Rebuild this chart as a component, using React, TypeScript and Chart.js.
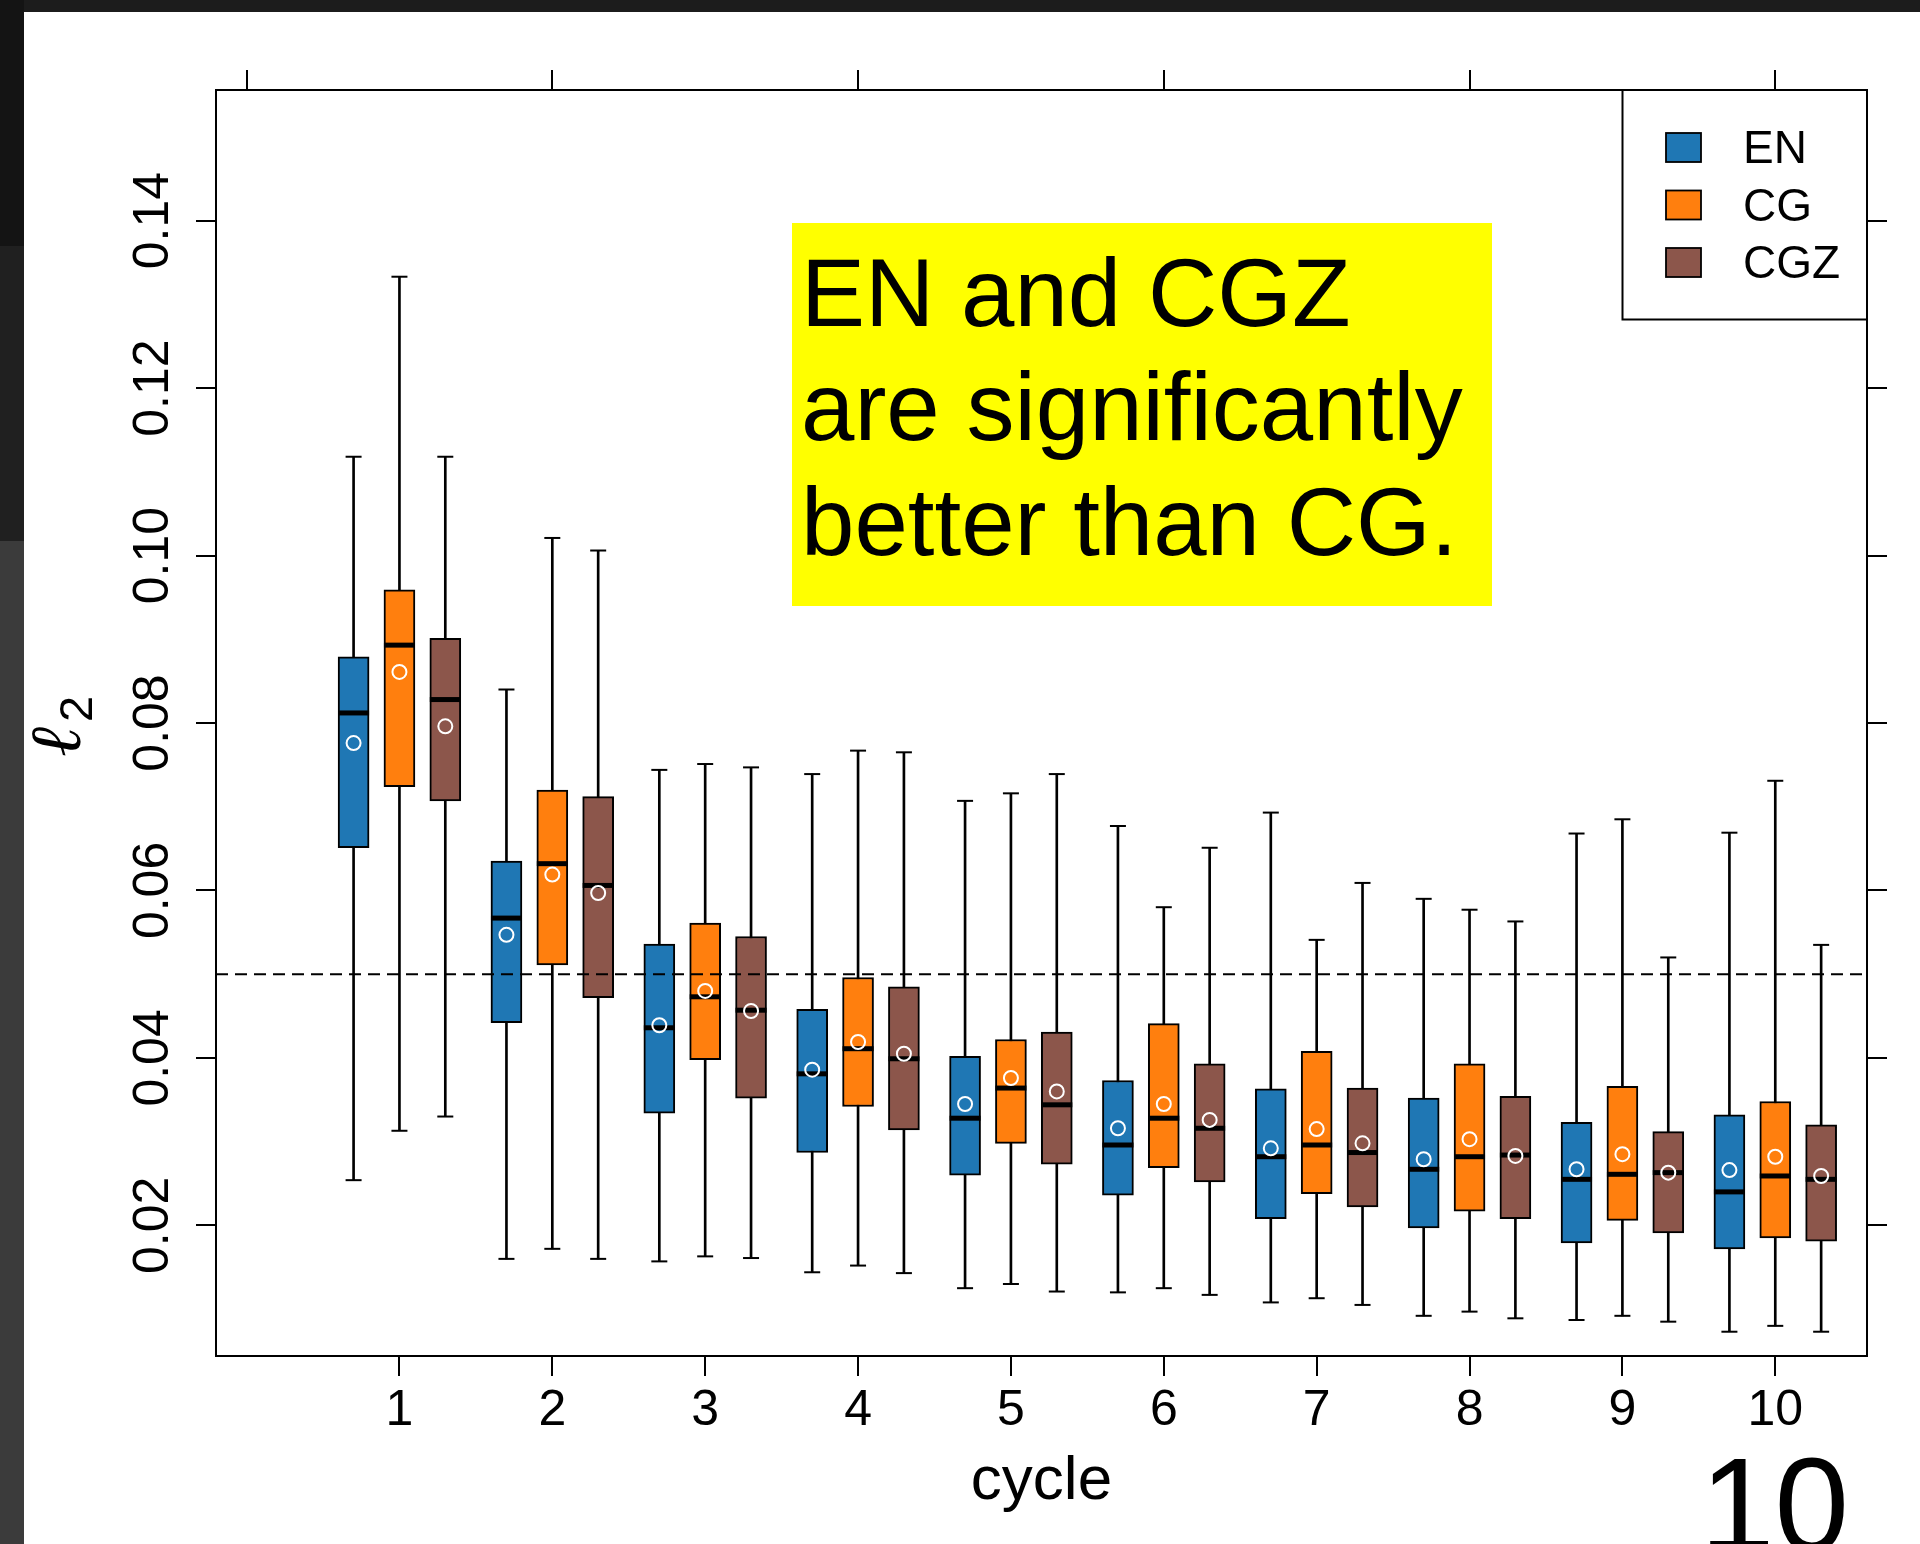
import React, { useEffect, useRef } from 'react';
import { Chart, registerables } from 'chart.js';

Chart.register(...registerables);

// ---------------- data ----------------
const cycles = [1, 2, 3, 4, 5, 6, 7, 8, 9, 10];
const methodNames = ['EN', 'CG', 'CGZ'];
const methodColors = ['#1f77b4', '#ff7f0e', '#8c564b'];
const methodOffsets = [-0.3, 0, 0.3];

const yTickValues = [0.02, 0.04, 0.06, 0.08, 0.1, 0.12, 0.14];
const yTickLabels = ['0.02', '0.04', '0.06', '0.08', '0.10', '0.12', '0.14'];
const xTickLabels = ['1', '2', '3', '4', '5', '6', '7', '8', '9', '10'];
const topTickValues = [0, 2, 4, 6, 8, 10];
const xAxisMin = -0.2;
const xAxisMax = 10.6;
const yAxisMin = 0.0044;
const yAxisMax = 0.1556;
const referenceLevel = 0.05;

const xTitle = 'cycle';
const yTitleMain = 'ℓ';
const yTitleSub = '2';
const annotationLines = ['EN and CGZ', 'are significantly', 'better than CG.'];
const pageNumber = '10';

// EN
const enLow = [0.0254, 0.016, 0.0157, 0.0144, 0.0125, 0.012, 0.0108, 0.0092, 0.0087, 0.0073];
const enQ1 = [0.0651, 0.0442, 0.0334, 0.0287, 0.026, 0.0236, 0.0208, 0.0197, 0.0179, 0.0172];
const enMedian = [0.0812, 0.0567, 0.0436, 0.0381, 0.0328, 0.0296, 0.0282, 0.0267, 0.0255, 0.024];
const enQ3 = [0.0879, 0.0635, 0.0536, 0.0458, 0.0402, 0.0373, 0.0363, 0.0352, 0.0323, 0.0332];
const enHigh = [0.1118, 0.084, 0.0744, 0.0739, 0.0707, 0.0677, 0.0693, 0.059, 0.0668, 0.0669];
const enMean = [0.0776, 0.0547, 0.0439, 0.0386, 0.0345, 0.0316, 0.0292, 0.0279, 0.0267, 0.0266];

// CG
const cgLow = [0.0313, 0.0172, 0.0163, 0.0152, 0.013, 0.0125, 0.0113, 0.0097, 0.0092, 0.008];
const cgQ1 = [0.0724, 0.0511, 0.0398, 0.0342, 0.0298, 0.0269, 0.0238, 0.0217, 0.0206, 0.0185];
const cgMedian = [0.0893, 0.0632, 0.0473, 0.0411, 0.0364, 0.0328, 0.0296, 0.0282, 0.0261, 0.0259];
const cgQ3 = [0.0959, 0.072, 0.0561, 0.0496, 0.0422, 0.0441, 0.0408, 0.0393, 0.0366, 0.0348];
const cgHigh = [0.1333, 0.1021, 0.0751, 0.0767, 0.0716, 0.058, 0.0541, 0.0577, 0.0685, 0.0731];
const cgMean = [0.0861, 0.0619, 0.048, 0.0419, 0.0376, 0.0345, 0.0315, 0.0303, 0.0285, 0.0282];

// CGZ
const cgzLow = [0.033, 0.016, 0.0161, 0.0143, 0.0121, 0.0117, 0.0105, 0.0089, 0.0085, 0.0073];
const cgzQ1 = [0.0707, 0.0472, 0.0352, 0.0314, 0.0273, 0.0252, 0.0222, 0.0208, 0.0191, 0.0181];
const cgzMedian = [0.0828, 0.0606, 0.0457, 0.0399, 0.0344, 0.0316, 0.0287, 0.0284, 0.0263, 0.0255];
const cgzQ3 = [0.0901, 0.0712, 0.0545, 0.0485, 0.0431, 0.0393, 0.0364, 0.0354, 0.0312, 0.032];
const cgzHigh = [0.1118, 0.1006, 0.0747, 0.0765, 0.0739, 0.0651, 0.0609, 0.0563, 0.052, 0.0535];
const cgzMean = [0.0796, 0.0597, 0.0456, 0.0405, 0.036, 0.0326, 0.0298, 0.0283, 0.0263, 0.0259];

const methodStats = [
  [enLow, enQ1, enMedian, enQ3, enHigh, enMean],
  [cgLow, cgQ1, cgMedian, cgQ3, cgHigh, cgMean],
  [cgzLow, cgzQ1, cgzMedian, cgzQ3, cgzHigh, cgzMean],
];

// ---------------- styling ----------------
const FONT = "'Liberation Sans', Arial, Helvetica, sans-serif";
const CANVAS_W = 1920;
const CANVAS_H = 1544;
const AREA = { left: 216, top: 90, right: 1867, bottom: 1356 };

function buildDatasets(): any[] {
  const out: any[] = [];
  methodStats.forEach((stats, m) => {
    const [low, q1, med, q3, high, mean] = stats;
    const xs = cycles.map((c) => c + methodOffsets[m]);
    out.push({
      type: 'bar',
      label: methodNames[m] + ' whiskers',
      data: xs.map((x, i) => ({ x, y: [low[i], high[i]] })),
      backgroundColor: '#000',
      borderWidth: 0,
      barThickness: 2,
      grouped: false,
      order: 50,
    });
    out.push({
      type: 'bar',
      label: methodNames[m],
      data: xs.map((x, i) => ({ x, y: [q1[i], q3[i]] })),
      backgroundColor: methodColors[m],
      borderColor: '#000',
      borderWidth: 2,
      borderSkipped: false,
      barThickness: 31,
      grouped: false,
      order: 40,
    });
    out.push({
      type: 'scatter',
      label: methodNames[m] + ' caps',
      data: [
        ...xs.map((x, i) => ({ x, y: low[i] })),
        ...xs.map((x, i) => ({ x, y: high[i] })),
      ],
      pointStyle: 'line',
      pointRadius: 8,
      pointHoverRadius: 8,
      pointBorderColor: '#000',
      pointBorderWidth: 2,
      pointHoverBorderWidth: 2,
      order: 30,
    });
    out.push({
      type: 'scatter',
      label: methodNames[m] + ' median',
      data: xs.map((x, i) => ({ x, y: med[i] })),
      pointStyle: 'line',
      pointRadius: 15.5,
      pointHoverRadius: 15.5,
      pointBorderColor: '#000',
      pointBorderWidth: 5,
      pointHoverBorderWidth: 5,
      order: 20,
    });
    out.push({
      type: 'scatter',
      label: methodNames[m] + ' mean',
      data: xs.map((x, i) => ({ x, y: mean[i] })),
      pointStyle: 'circle',
      pointRadius: 7,
      pointHoverRadius: 7,
      pointBorderColor: '#fff',
      pointBackgroundColor: 'rgba(0,0,0,0)',
      pointBorderWidth: 2,
      pointHoverBorderWidth: 2,
      order: 10,
    });
  });
  out.push({
    type: 'line',
    label: 'reference',
    data: [
      { x: xAxisMin, y: referenceLevel },
      { x: xAxisMax, y: referenceLevel },
    ],
    borderColor: '#000',
    borderWidth: 2,
    borderDash: [12, 7],
    pointRadius: 0,
    showLine: true,
    fill: false,
    order: 0,
  });
  return out;
}

const gridOpts = {
  display: true,
  drawOnChartArea: false,
  drawTicks: true,
  tickLength: 20,
  tickColor: '#000',
  tickWidth: 2,
  color: '#000',
  lineWidth: 2,
  offset: false,
};
const borderOpts = { display: true, color: '#000', width: 2 };

const overlayPlugin = {
  id: 'slideOverlay',
  afterDraw(chart: any) {
    const ctx = chart.ctx as CanvasRenderingContext2D;
    ctx.save();

    // highlighted annotation
    ctx.fillStyle = '#ffff00';
    ctx.fillRect(792, 223, 700, 383);
    ctx.fillStyle = '#000';
    ctx.font = `96px ${FONT}`;
    ctx.textAlign = 'left';
    ctx.textBaseline = 'alphabetic';
    const baselines = [326, 440, 555];
    annotationLines.forEach((t, i) => ctx.fillText(t, 801, baselines[i]));

    // legend
    const lx0 = 1622.5;
    const ly0 = AREA.top;
    const lx1 = AREA.right;
    const ly1 = 319.5;
    ctx.fillStyle = '#fff';
    ctx.fillRect(lx0, ly0, lx1 - lx0, ly1 - ly0);
    ctx.strokeStyle = '#000';
    ctx.lineWidth = 2;
    ctx.strokeRect(lx0, ly0, lx1 - lx0, ly1 - ly0);
    ctx.font = `46px ${FONT}`;
    methodNames.forEach((name, i) => {
      const cy = 147.5 + 57.5 * i;
      ctx.fillStyle = methodColors[i];
      ctx.fillRect(1666, cy - 14.5, 35, 29);
      ctx.lineWidth = 1.8;
      ctx.strokeStyle = '#000';
      ctx.strokeRect(1666, cy - 14.5, 35, 29);
      ctx.fillStyle = '#000';
      ctx.fillText(name, 1743, cy + 15.5);
    });

    // y axis title: script l with subscript 2
    ctx.save();
    ctx.translate(80, 757);
    ctx.rotate(-Math.PI / 2);
    ctx.fillStyle = '#000';
    ctx.font = `italic 72px 'Liberation Serif', 'DejaVu Serif', serif`;
    ctx.fillText(yTitleMain, 0, 0);
    ctx.font = `47px ${FONT}`;
    ctx.fillText(yTitleSub, 35, 12);
    ctx.restore();

    // slide page number
    ctx.fillStyle = '#000';
    ctx.font = `134px ${FONT}`;
    ctx.fillText(pageNumber, 1700, 1551);

    ctx.restore();
  },
};

export default function App() {
  const canvasRef = useRef<HTMLCanvasElement | null>(null);

  useEffect(() => {
    document.body.style.margin = '0';
    document.body.style.overflow = 'hidden';
    const canvas = canvasRef.current;
    if (!canvas) return;
    const chart = new Chart(canvas, {
      type: 'scatter',
      data: { datasets: buildDatasets() } as any,
      plugins: [overlayPlugin],
      options: {
        responsive: false,
        devicePixelRatio: 1,
        animation: false,
        events: [],
        layout: { padding: 0 },
        plugins: {
          legend: { display: false },
          tooltip: { enabled: false },
          title: { display: false },
        },
        scales: {
          x: {
            type: 'linear',
            axis: 'x',
            position: 'bottom',
            min: xAxisMin,
            max: xAxisMax,
            bounds: 'data',
            offset: false,
            grid: gridOpts,
            border: borderOpts,
            afterBuildTicks: (scale: any) => {
              scale.ticks = cycles.map((v) => ({ value: v }));
            },
            afterFit: (scale: any) => {
              scale.height = CANVAS_H - AREA.bottom;
            },
            ticks: {
              autoSkip: false,
              maxRotation: 0,
              minRotation: 0,
              padding: 5,
              color: '#000',
              font: { family: FONT, size: 50 },
              callback: (value: any) => xTickLabels[cycles.indexOf(Number(value))] ?? '',
            },
            title: {
              display: true,
              text: xTitle,
              color: '#000',
              font: { family: FONT, size: 62 },
              padding: { top: 0, bottom: 25 },
            },
          },
          x2: {
            type: 'linear',
            axis: 'x',
            position: 'top',
            min: xAxisMin,
            max: xAxisMax,
            bounds: 'data',
            offset: false,
            grid: gridOpts,
            border: borderOpts,
            afterBuildTicks: (scale: any) => {
              scale.ticks = topTickValues.map((v) => ({ value: v }));
            },
            afterFit: (scale: any) => {
              scale.height = AREA.top;
            },
            ticks: { display: false, autoSkip: false },
          },
          y: {
            type: 'linear',
            axis: 'y',
            position: 'left',
            min: yAxisMin,
            max: yAxisMax,
            bounds: 'data',
            grid: gridOpts,
            border: borderOpts,
            afterBuildTicks: (scale: any) => {
              scale.ticks = yTickValues.map((v) => ({ value: v }));
            },
            afterFit: (scale: any) => {
              scale.width = AREA.left;
            },
            ticks: {
              autoSkip: false,
              minRotation: 90,
              maxRotation: 90,
              crossAlign: 'center',
              padding: -7,
              color: '#000',
              font: { family: FONT, size: 50 },
              callback: (value: any) => yTickLabels[yTickValues.indexOf(Number(value))] ?? '',
            },
          },
          y2: {
            type: 'linear',
            axis: 'y',
            position: 'right',
            min: yAxisMin,
            max: yAxisMax,
            bounds: 'data',
            grid: gridOpts,
            border: borderOpts,
            afterBuildTicks: (scale: any) => {
              scale.ticks = yTickValues.map((v) => ({ value: v }));
            },
            afterFit: (scale: any) => {
              scale.width = CANVAS_W - AREA.right;
            },
            ticks: { display: false, autoSkip: false },
          },
        },
      } as any,
    });
    return () => chart.destroy();
  }, []);

  return (
    <div
      style={{
        position: 'absolute',
        left: 0,
        top: 0,
        width: CANVAS_W,
        height: CANVAS_H,
        background: '#1c1c1c',
        overflow: 'hidden',
      }}
    >
      <div style={{ position: 'absolute', left: 0, top: 0, width: 24, height: 246, background: '#141414' }} />
      <div style={{ position: 'absolute', left: 0, top: 246, width: 24, height: 295, background: '#202020' }} />
      <div style={{ position: 'absolute', left: 0, top: 541, width: 24, height: 1003, background: '#3b3b3b' }} />
      <div style={{ position: 'absolute', left: 24, top: 12, width: CANVAS_W - 24, height: CANVAS_H - 12, background: '#ffffff' }} />
      <canvas
        ref={canvasRef}
        width={CANVAS_W}
        height={CANVAS_H}
        style={{ position: 'absolute', left: 0, top: 0, width: CANVAS_W, height: CANVAS_H, display: 'block' }}
      />
    </div>
  );
}
